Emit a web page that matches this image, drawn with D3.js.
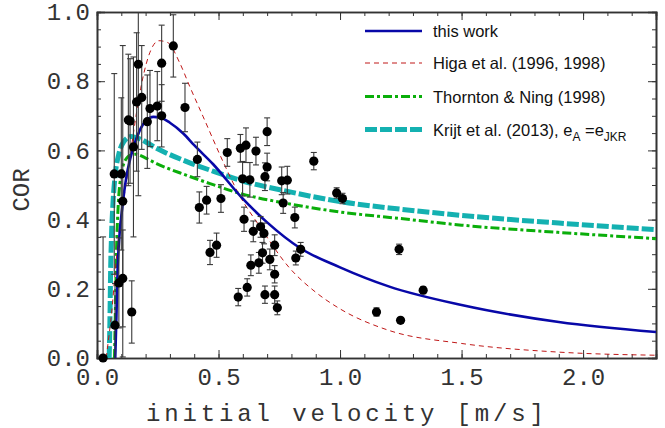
<!DOCTYPE html>
<html>
<head>
<meta charset="utf-8">
<script src="https://cdn.jsdelivr.net/npm/d3@7"></script>
<style>
  body { margin: 0; background: #fff; }
  svg { display: block; }
</style>
</head>
<body>
<svg id="chart" width="665" height="428"></svg>
<script>
// measured points: initial velocity [m/s], COR, error
const obsVelocity = [0.025, 0.074, 0.09, 0.106, 0.143, 0.071, 0.10, 0.106, 0.15, 0.129, 0.136, 0.163, 0.184, 0.17, 0.207, 0.218, 0.248, 0.266, 0.266, 0.314, 0.362,
  0.413, 0.421, 0.451, 0.465, 0.492, 0.51, 0.536, 0.581, 0.59, 0.599, 0.605, 0.613, 0.618, 0.629, 0.633, 0.643, 0.654, 0.666, 0.673, 0.681, 0.687, 0.691, 0.691,
  0.70, 0.70, 0.711, 0.731, 0.731, 0.731, 0.742, 0.76, 0.766, 0.783, 0.814, 0.818, 0.838, 0.892, 0.986, 1.01, 1.15, 1.243, 1.249, 1.342]
const obsCOR = [0.0, 0.095, 0.217, 0.23, 0.133, 0.532, 0.532, 0.453, 0.61, 0.688, 0.685, 0.74, 0.753, 0.849, 0.683, 0.721, 0.728, 0.852, 0.70, 0.902, 0.724,
  0.574, 0.435, 0.456, 0.305, 0.326, 0.461, 0.594, 0.176, 0.606, 0.518, 0.401, 0.615, 0.204, 0.515, 0.268, 0.366, 0.598, 0.275, 0.379, 0.304, 0.36, 0.524, 0.183,
  0.654, 0.552, 0.285, 0.326, 0.242, 0.183, 0.145, 0.512, 0.448, 0.514, 0.406, 0.289, 0.314, 0.569, 0.477, 0.461, 0.133, 0.314, 0.109, 0.196]
const obsError = [0.35, 0.12, 0.13, 0.14, 0.09, 0.29, 0.22, 0.45, 0.26, 0.19, 0.18, 0.2, 0.15, 0.38, 0.135, 0.11, 0.10, 0.11, 0.09, 0.09, 0.07,
  0.05, 0.045, 0.04, 0.035, 0.035, 0.04, 0.04, 0.025, 0.04, 0.05, 0.035, 0.05, 0.025, 0.05, 0.03, 0.03, 0.04, 0.03, 0.03, 0.03, 0.03, 0.04, 0.025,
  0.04, 0.04, 0.03, 0.03, 0.025, 0.025, 0.02, 0.04, 0.03, 0.04, 0.03, 0.02, 0.02, 0.025, 0.015, 0.015, 0.012, 0.015, 0.008, 0.01]

// model curves: [velocity, COR]
const thisWork = [[0.075, 0], [0.08, 0.12], [0.085, 0.26], [0.092, 0.35], [0.105, 0.44], [0.12, 0.52], [0.14, 0.585], [0.174, 0.655], [0.2, 0.685],
  [0.232, 0.697], [0.26, 0.695], [0.3, 0.68], [0.355, 0.649], [0.4, 0.615], [0.478, 0.56], [0.59, 0.468], [0.7, 0.392], [0.835, 0.318],
  [1.0, 0.262], [1.2, 0.207], [1.5, 0.153], [1.9, 0.104], [2.3, 0.075]]
const higa = [[0.038, 0], [0.045, 0.04], [0.06, 0.13], [0.075, 0.25], [0.09, 0.36], [0.11, 0.46], [0.13, 0.55], [0.15, 0.65], [0.165, 0.72],
  [0.18, 0.78], [0.211, 0.87], [0.255, 0.917], [0.29, 0.912], [0.341, 0.852], [0.382, 0.784], [0.437, 0.697], [0.519, 0.567], [0.588, 0.468],
  [0.67, 0.38], [0.79, 0.262], [0.9, 0.19], [1.0, 0.142], [1.2, 0.08], [1.5, 0.042], [1.9, 0.017], [2.3, 0.008]]
const thorntonNing = [[0.072, 0], [0.076, 0.15], [0.08, 0.3], [0.088, 0.45], [0.1, 0.53], [0.115, 0.57], [0.14, 0.587], [0.16, 0.589],
  [0.2, 0.578], [0.245, 0.562], [0.369, 0.528], [0.465, 0.504], [0.588, 0.476], [0.794, 0.445], [1.0, 0.422], [1.25, 0.403], [1.5, 0.384],
  [1.9, 0.363], [2.3, 0.345]]
const krijt = [[0.05, 0], [0.053, 0.1], [0.056, 0.25], [0.06, 0.36], [0.066, 0.45], [0.075, 0.53], [0.09, 0.59], [0.11, 0.625], [0.14, 0.64],
  [0.17, 0.635], [0.245, 0.606], [0.382, 0.564], [0.465, 0.543], [0.588, 0.514], [0.794, 0.48], [1.0, 0.452], [1.25, 0.43], [1.5, 0.412],
  [1.9, 0.39], [2.3, 0.371]]

const xTicks = [0, 0.5, 1.0, 1.5, 2.0]
const yTicks = [0, 0.2, 0.4, 0.6, 0.8, 1.0]

const width = 665
const height = 428
const margin = { top: 12, right: 9, bottom: 70, left: 97 }

const svg = d3.select('#chart')
const x = d3.scaleLinear().domain([0, 2.3]).range([margin.left, width - margin.right])
const y = d3.scaleLinear().domain([0, 1]).range([height - margin.bottom, margin.top])

svg.append('defs').append('clipPath').attr('id', 'plot-clip')
  .append('rect')
  .attr('x', margin.left).attr('y', margin.top)
  .attr('width', width - margin.left - margin.right)
  .attr('height', height - margin.top - margin.bottom)

const monoFont = '"Liberation Mono", "DejaVu Sans Mono", monospace'
const frameColour = '#333'

// minor ticks first, then major ticks with labels
const styleAxis = (g) => {
  g.select('.domain').attr('stroke', frameColour).attr('stroke-width', 1.6)
  g.selectAll('.tick line').attr('stroke', frameColour).attr('stroke-width', 1)
  g.selectAll('.tick text').attr('fill', '#333').style('font-family', monoFont).style('font-size', '24px')
}

const xMinor = d3.range(0, 2.31, 0.1).map(d => +d.toFixed(2))
const yMinor = d3.range(0, 1.001, 0.05).map(d => +d.toFixed(2))
const bottomY = height - margin.bottom
const rightX = width - margin.right

svg.append('g').attr('transform', `translate(0,${bottomY})`)
  .call(d3.axisBottom(x).tickValues(xMinor).tickSize(-4).tickFormat(''))
  .call(styleAxis)
svg.append('g').attr('transform', `translate(0,${bottomY})`)
  .call(d3.axisBottom(x).tickValues(xTicks).tickSize(-8).tickPadding(10).tickFormat(d3.format('.1f')))
  .call(styleAxis)
svg.append('g').attr('transform', `translate(0,${margin.top})`)
  .call(d3.axisTop(x).tickValues(xMinor).tickSize(-4).tickFormat(''))
  .call(styleAxis)
svg.append('g').attr('transform', `translate(0,${margin.top})`)
  .call(d3.axisTop(x).tickValues(xTicks).tickSize(-8).tickFormat(''))
  .call(styleAxis)

svg.append('g').attr('transform', `translate(${margin.left},0)`)
  .call(d3.axisLeft(y).tickValues(yMinor).tickSize(-4).tickFormat(''))
  .call(styleAxis)
svg.append('g').attr('transform', `translate(${margin.left},0)`)
  .call(d3.axisLeft(y).tickValues(yTicks).tickSize(-8).tickPadding(7).tickFormat(d3.format('.1f')))
  .call(styleAxis)
svg.append('g').attr('transform', `translate(${rightX},0)`)
  .call(d3.axisRight(y).tickValues(yMinor).tickSize(-4).tickFormat(''))
  .call(styleAxis)
svg.append('g').attr('transform', `translate(${rightX},0)`)
  .call(d3.axisRight(y).tickValues(yTicks).tickSize(-8).tickFormat(''))
  .call(styleAxis)

// axis titles
svg.append('text')
  .attr('x', 345).attr('y', 421)
  .attr('text-anchor', 'middle')
  .attr('textLength', 398).attr('lengthAdjust', 'spacing')
  .style('font-family', monoFont).style('font-size', '24px').attr('fill', '#333')
  .text('initial velocity [m/s]')
svg.append('text')
  .attr('transform', 'translate(29,190) rotate(-90)')
  .attr('text-anchor', 'middle')
  .style('font-family', monoFont).style('font-size', '24px').attr('fill', '#333')
  .text('COR')

// model curves
const models = [
  { name: 'krijt', data: krijt, colour: '#14b1b1', width: 5, dash: '12,3' },
  { name: 'thornton', data: thorntonNing, colour: '#0aae0a', width: 3, dash: '9,3,3,3' },
  { name: 'higa', data: higa, colour: '#c01818', width: 1, dash: '5,4' },
  { name: 'this', data: thisWork, colour: '#0808a8', width: 2.6, dash: null }
]

const line = d3.line()
  .x(d => x(d[0]))
  .y(d => y(d[1]))
  .curve(d3.curveMonotoneX)

const curves = svg.append('g').attr('clip-path', 'url(#plot-clip)')

// error bars and points
const points = obsVelocity.map((v, i) => ({ v: v, cor: obsCOR[i], err: obsError[i] }))
const bars = svg.append('g').attr('clip-path', 'url(#plot-clip)')
  .attr('stroke', '#3a3a3a').attr('stroke-width', 1.1)
bars.selectAll('line.bar').data(points).enter().append('line')
  .attr('class', 'bar')
  .attr('x1', d => x(d.v)).attr('x2', d => x(d.v))
  .attr('y1', d => y(d.cor - d.err)).attr('y2', d => y(d.cor + d.err))
bars.selectAll('line.cap-top').data(points).enter().append('line')
  .attr('class', 'cap-top')
  .attr('x1', d => x(d.v) - 3).attr('x2', d => x(d.v) + 3)
  .attr('y1', d => y(d.cor + d.err)).attr('y2', d => y(d.cor + d.err))
bars.selectAll('line.cap-bottom').data(points).enter().append('line')
  .attr('class', 'cap-bottom')
  .attr('x1', d => x(d.v) - 3).attr('x2', d => x(d.v) + 3)
  .attr('y1', d => y(d.cor - d.err)).attr('y2', d => y(d.cor - d.err))

curves.selectAll('path')
  .data(models)
  .enter()
  .append('path')
  .attr('d', d => line(d.data))
  .attr('fill', 'none')
  .attr('stroke', d => d.colour)
  .attr('stroke-width', d => d.width)
  .attr('stroke-dasharray', d => d.dash)

svg.append('g').selectAll('circle')
  .data(points)
  .enter()
  .append('circle')
  .attr('cx', d => x(d.v))
  .attr('cy', d => y(d.cor))
  .attr('r', 4.6)
  .attr('fill', '#000')

// legend
const legendRows = [
  { label: 'this work', model: 'this' },
  { label: 'Higa et al. (1996, 1998)', model: 'higa' },
  { label: 'Thornton & Ning (1998)', model: 'thornton' },
  { label: 'Krijt et al. (2013), ', model: 'krijt' }
]
const legendY = [31, 63, 96.5, 129.5]
const legend = svg.append('g')
legendRows.forEach((row, i) => {
  const m = models.find(d => d.name === row.model)
  legend.append('line')
    .attr('x1', 365).attr('x2', 422)
    .attr('y1', legendY[i]).attr('y2', legendY[i])
    .attr('stroke', m.colour)
    .attr('stroke-width', m.width)
    .attr('stroke-dasharray', m.dash)
  const t = legend.append('text')
    .attr('x', 433).attr('y', legendY[i] + 6)
    .style('font-family', '"Liberation Sans", Arial, sans-serif')
    .style('font-size', '16.5px')
    .attr('fill', '#111')
    .text(row.label)
  if (row.model === 'krijt') {
    t.append('tspan').text('e')
    t.append('tspan').attr('dy', 5).style('font-size', '12px').text('A')
    t.append('tspan').attr('dy', -5).text(' =e')
    t.append('tspan').attr('dy', 5).style('font-size', '12px').text('JKR')
  }
})
</script>
</body>
</html>
